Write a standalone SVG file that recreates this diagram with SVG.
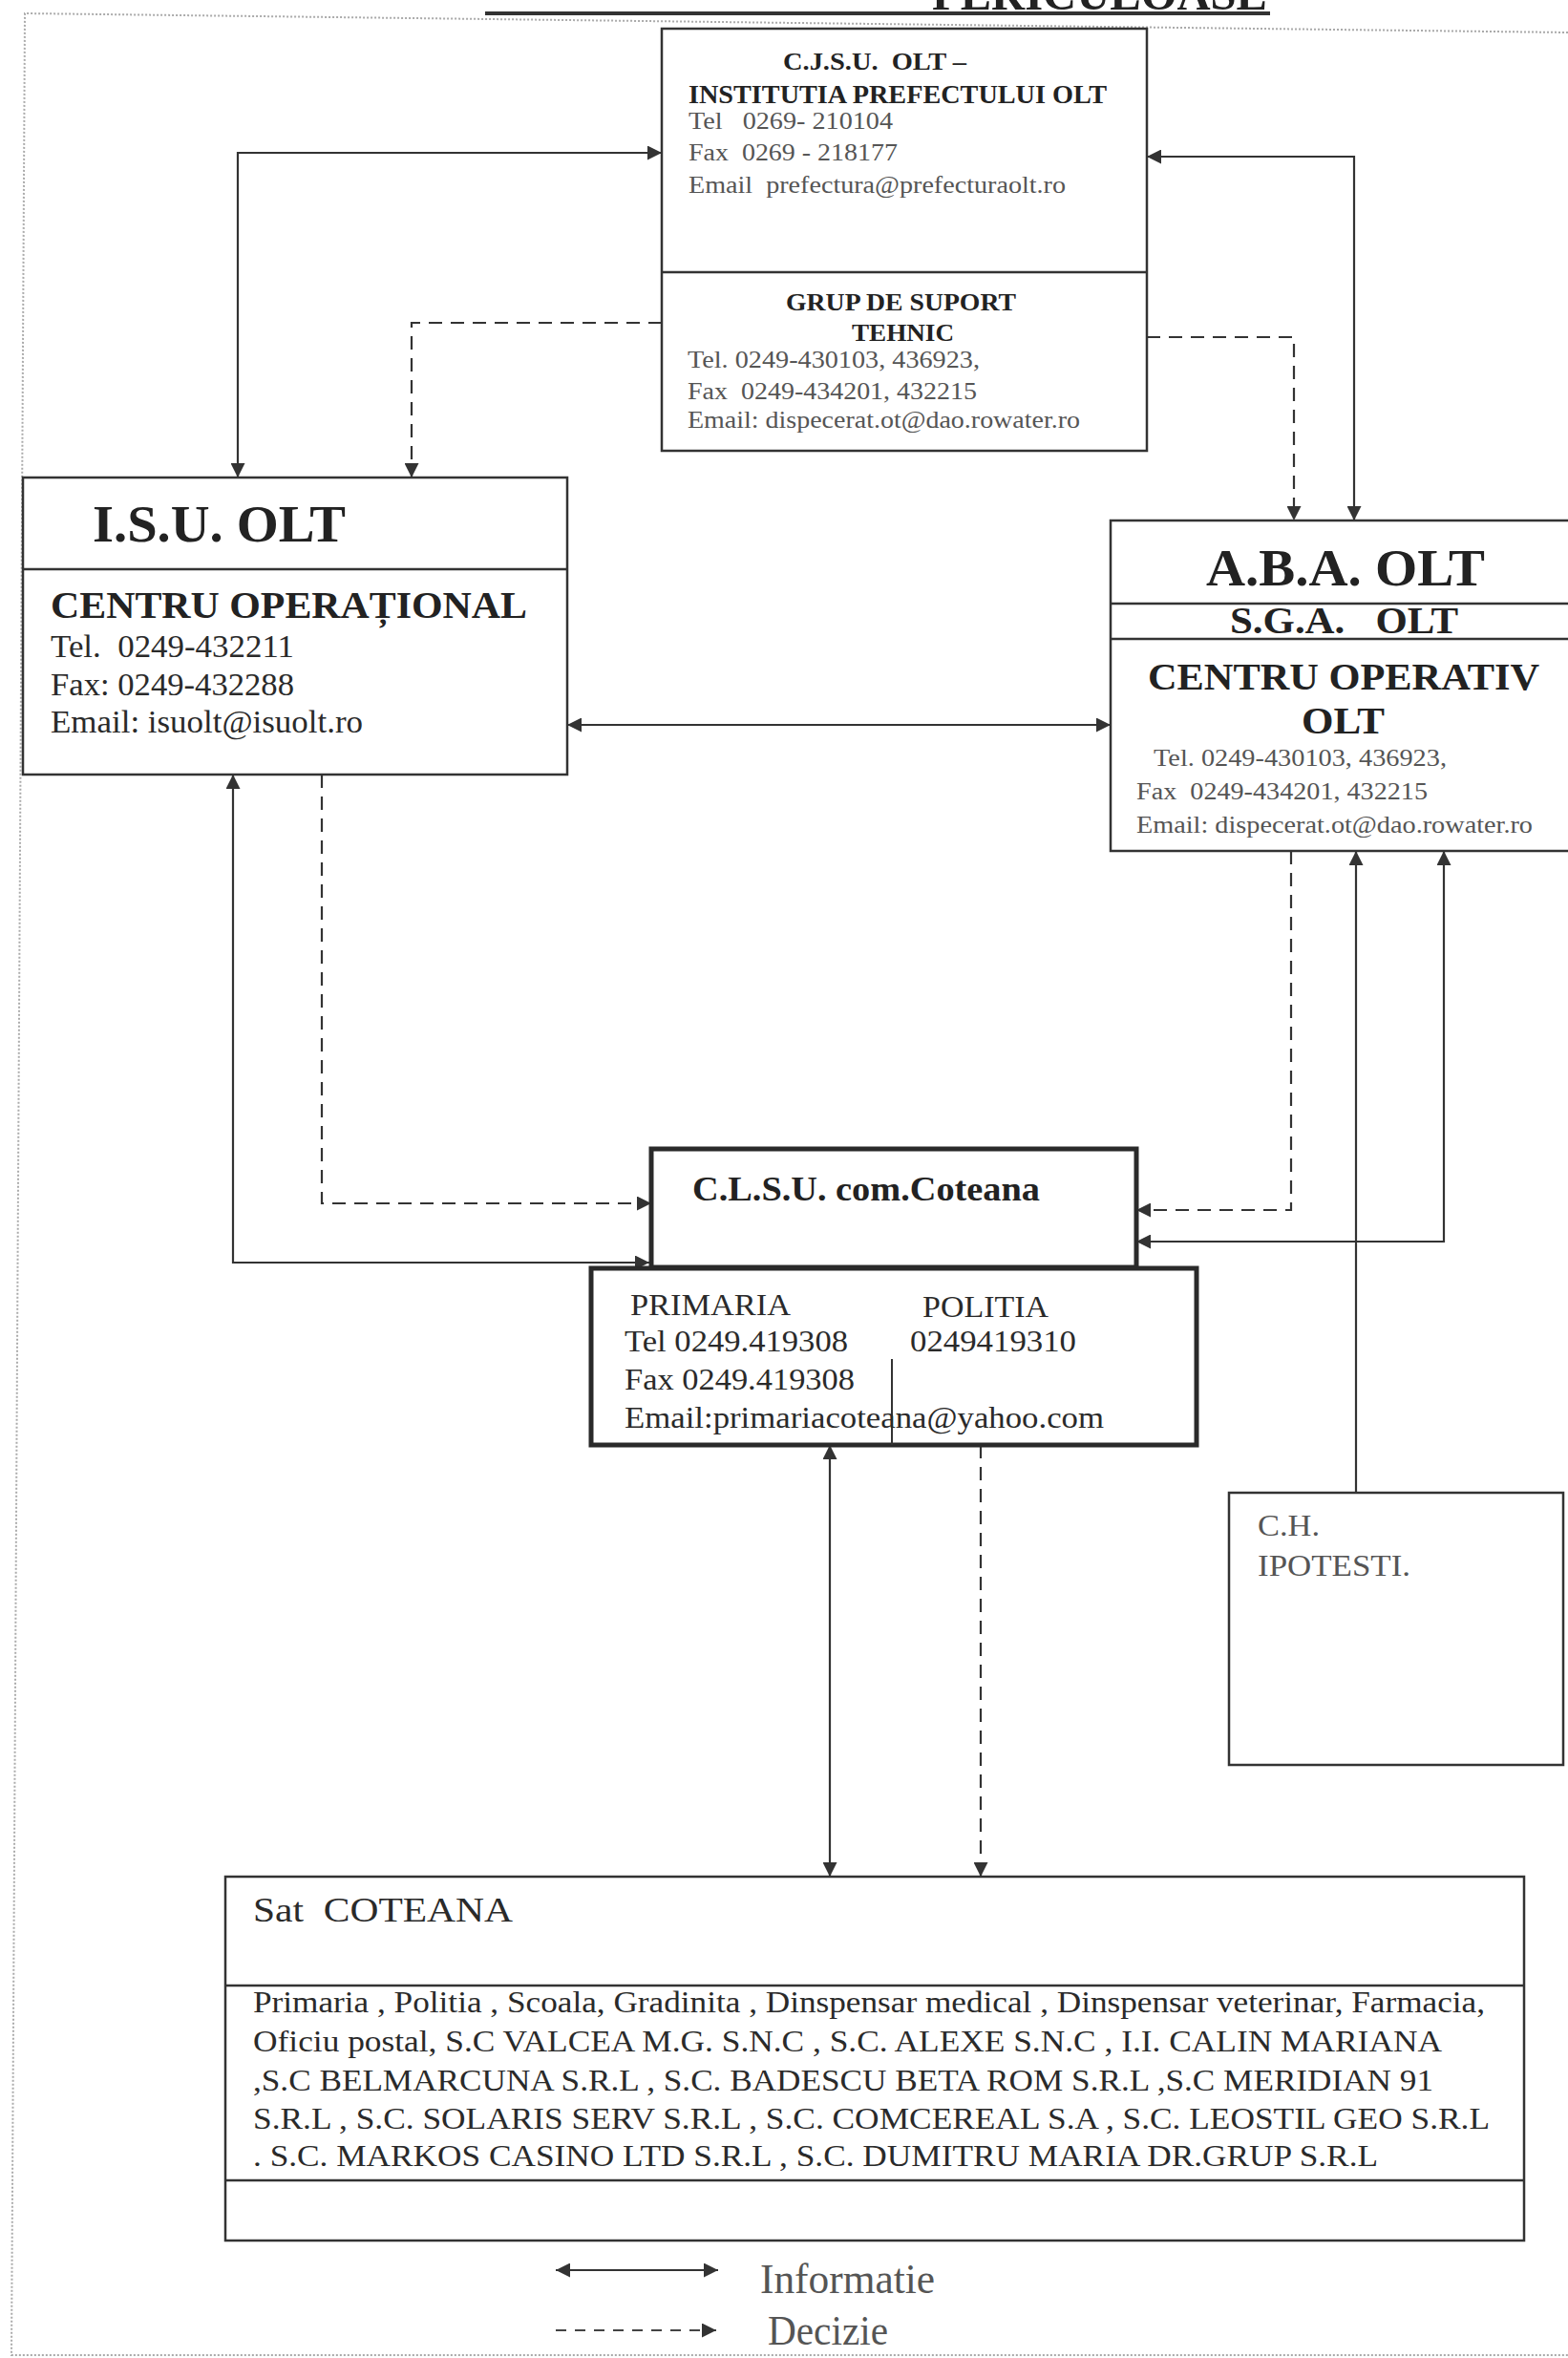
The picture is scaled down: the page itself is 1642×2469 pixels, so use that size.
<svg xmlns="http://www.w3.org/2000/svg" width="1642" height="2469" viewBox="0 0 1642 2469">
<style>
.box{fill:none;stroke:#333;stroke-width:2.5}
.thick{fill:none;stroke:#2a2a2a;stroke-width:5}
.ln{fill:none;stroke:#333;stroke-width:2.5}
.sol{fill:none;stroke:#333;stroke-width:2.2}
.dash{fill:none;stroke:#333;stroke-width:2.2;stroke-dasharray:14 9}
.b{font-family:"Liberation Serif","Times New Roman",serif;font-weight:bold;fill:#222}
.r{font-family:"Liberation Serif","Times New Roman",serif;fill:#2a2a2a}
.g{font-family:"Liberation Serif","Times New Roman",serif;fill:#555}
.frame{fill:none;stroke:#aaa;stroke-width:2;stroke-dasharray:2 2}
</style>
<defs>
<marker id="ah" viewBox="0 0 10 10" refX="10" refY="5" markerWidth="20" markerHeight="15" markerUnits="userSpaceOnUse" orient="auto-start-reverse"><path d="M0,0 L10,5 L0,10 z" fill="#333"/></marker>
</defs>
<rect width="1642" height="2469" fill="#fff"/>
<g id="frame">
<polyline class="frame" points="1642,34 26,14 12,2466 1642,2466"/>
</g>
<g id="title">
<text class="b" x="1327" y="10" font-size="48" text-anchor="end" textLength="351" lengthAdjust="spacingAndGlyphs">PERICULOASE</text>
<line x1="508" y1="14" x2="1330" y2="14" stroke="#333" stroke-width="4"/>
</g>
<g id="connectors">
<path class="sol" d="M693,160 H249 V500" marker-start="url(#ah)" marker-end="url(#ah)"/>
<path class="dash" d="M693,338 H431 V500" marker-end="url(#ah)"/>
<path class="sol" d="M1201,164 H1418 V545" marker-start="url(#ah)" marker-end="url(#ah)"/>
<path class="dash" d="M1201,353 H1355 V545" marker-end="url(#ah)"/>
<path class="sol" d="M594,759 H1163" marker-start="url(#ah)" marker-end="url(#ah)"/>
<path class="sol" d="M244,811 V1322 H680" marker-start="url(#ah)" marker-end="url(#ah)"/>
<path class="dash" d="M337,811 V1260 H682" marker-end="url(#ah)"/>
<path class="dash" d="M1352,891 V1267 H1190" marker-end="url(#ah)"/>
<path class="sol" d="M1512,891 V1300 H1190" marker-start="url(#ah)" marker-end="url(#ah)"/>
<path class="sol" d="M1420,1563 V891" marker-end="url(#ah)"/>
<path class="sol" d="M869,1513 V1965" marker-start="url(#ah)" marker-end="url(#ah)"/>
<path class="dash" d="M1027,1513 V1965" marker-end="url(#ah)"/>
</g>
<g id="cjsu">
<rect class="box" x="693" y="30" width="508" height="442"/>
<line class="box" x1="693" y1="285" x2="1201" y2="285"/>
<text class="b" x="820" y="73" font-size="26" textLength="192" lengthAdjust="spacingAndGlyphs" xml:space="preserve">C.J.S.U.  OLT –</text>
<text class="b" x="721" y="108" font-size="27" textLength="438" lengthAdjust="spacingAndGlyphs">INSTITUTIA PREFECTULUI OLT</text>
<text class="g" x="721" y="135" font-size="26" textLength="214" lengthAdjust="spacingAndGlyphs" xml:space="preserve">Tel   0269- 210104</text>
<text class="g" x="721" y="168" font-size="26" textLength="219" lengthAdjust="spacingAndGlyphs" xml:space="preserve">Fax  0269 - 218177</text>
<text class="g" x="721" y="202" font-size="26" textLength="395" lengthAdjust="spacingAndGlyphs" xml:space="preserve">Email  prefectura@prefecturaolt.ro</text>
<text class="b" x="823" y="325" font-size="25" textLength="241" lengthAdjust="spacingAndGlyphs">GRUP DE SUPORT</text>
<text class="b" x="892" y="357" font-size="26" textLength="107" lengthAdjust="spacingAndGlyphs">TEHNIC</text>
<text class="g" x="720" y="385" font-size="25" textLength="306" lengthAdjust="spacingAndGlyphs">Tel. 0249-430103, 436923,</text>
<text class="g" x="720" y="418" font-size="25" textLength="303" lengthAdjust="spacingAndGlyphs" xml:space="preserve">Fax  0249-434201, 432215</text>
<text class="g" x="720" y="448" font-size="25" textLength="411" lengthAdjust="spacingAndGlyphs">Email: dispecerat.ot@dao.rowater.ro</text>
</g>
<g id="isu">
<rect class="box" x="24" y="500" width="570" height="311"/>
<line class="box" x1="24" y1="596" x2="594" y2="596"/>
<text class="b" x="97" y="567" font-size="55" textLength="265" lengthAdjust="spacingAndGlyphs">I.S.U. OLT</text>
<text class="b" x="53" y="647" font-size="40" textLength="499" lengthAdjust="spacingAndGlyphs">CENTRU OPERAȚIONAL</text>
<text class="r" x="53" y="688" font-size="34" textLength="255" lengthAdjust="spacingAndGlyphs" xml:space="preserve">Tel.  0249-432211</text>
<text class="r" x="53" y="728" font-size="34" textLength="255" lengthAdjust="spacingAndGlyphs">Fax: 0249-432288</text>
<text class="r" x="53" y="767" font-size="34" textLength="327" lengthAdjust="spacingAndGlyphs">Email: isuolt@isuolt.ro</text>
</g>
<g id="aba">
<rect class="box" x="1163" y="545" width="500" height="346"/>
<line class="box" x1="1163" y1="632" x2="1642" y2="632"/>
<line class="box" x1="1163" y1="669" x2="1642" y2="669"/>
<text class="b" x="1263" y="613" font-size="55" textLength="292" lengthAdjust="spacingAndGlyphs">A.B.A. OLT</text>
<text class="b" x="1288" y="663" font-size="40" textLength="239" lengthAdjust="spacingAndGlyphs" xml:space="preserve">S.G.A.   OLT</text>
<text class="b" x="1202" y="722" font-size="40" textLength="410" lengthAdjust="spacingAndGlyphs">CENTRU OPERATIV</text>
<text class="b" x="1363" y="768" font-size="40" textLength="87" lengthAdjust="spacingAndGlyphs">OLT</text>
<text class="g" x="1208" y="802" font-size="25" textLength="307" lengthAdjust="spacingAndGlyphs">Tel. 0249-430103, 436923,</text>
<text class="g" x="1190" y="837" font-size="25" textLength="305" lengthAdjust="spacingAndGlyphs" xml:space="preserve">Fax  0249-434201, 432215</text>
<text class="g" x="1190" y="872" font-size="25" textLength="415" lengthAdjust="spacingAndGlyphs">Email: dispecerat.ot@dao.rowater.ro</text>
</g>
<g id="clsu">
<rect class="thick" x="682" y="1203" width="508" height="124"/>
<text class="b" x="725" y="1257" font-size="36" textLength="364" lengthAdjust="spacingAndGlyphs">C.L.S.U. com.Coteana</text>
</g>
<g id="primaria">
<rect class="thick" x="619" y="1328" width="634" height="185"/>
<line x1="934" y1="1423" x2="934" y2="1513" stroke="#333" stroke-width="2"/>
<text class="r" x="660" y="1377" font-size="32" textLength="168" lengthAdjust="spacingAndGlyphs">PRIMARIA</text>
<text class="r" x="966" y="1379" font-size="32" textLength="132" lengthAdjust="spacingAndGlyphs">POLITIA</text>
<text class="r" x="654" y="1415" font-size="32" textLength="234" lengthAdjust="spacingAndGlyphs">Tel 0249.419308</text>
<text class="r" x="953" y="1415" font-size="32" textLength="174" lengthAdjust="spacingAndGlyphs">0249419310</text>
<text class="r" x="654" y="1455" font-size="32" textLength="241" lengthAdjust="spacingAndGlyphs">Fax 0249.419308</text>
<text class="r" x="654" y="1495" font-size="32" textLength="502" lengthAdjust="spacingAndGlyphs">Email:primariacoteana@yahoo.com</text>
</g>
<g id="ch">
<rect class="box" x="1287" y="1563" width="350" height="285"/>
<text class="g" x="1317" y="1608" font-size="31" textLength="65" lengthAdjust="spacingAndGlyphs">C.H.</text>
<text class="g" x="1317" y="1650" font-size="31" textLength="160" lengthAdjust="spacingAndGlyphs">IPOTESTI.</text>
</g>
<g id="sat">
<rect class="ln" x="236" y="1965" width="1360" height="381"/>
<line class="ln" x1="236" y1="2079" x2="1596" y2="2079"/>
<line class="ln" x1="236" y1="2283" x2="1596" y2="2283"/>
<text class="r" x="265" y="2012" font-size="36" textLength="272" lengthAdjust="spacingAndGlyphs" xml:space="preserve">Sat  COTEANA</text>
<text class="r" x="265" y="2107" font-size="31" textLength="1290" lengthAdjust="spacingAndGlyphs">Primaria , Politia , Scoala, Gradinita , Dinspensar medical , Dinspensar veterinar, Farmacia,</text>
<text class="r" x="265" y="2148" font-size="31" textLength="1245" lengthAdjust="spacingAndGlyphs">Oficiu postal, S.C VALCEA M.G. S.N.C , S.C. ALEXE S.N.C , I.I. CALIN MARIANA</text>
<text class="r" x="265" y="2189" font-size="31" textLength="1236" lengthAdjust="spacingAndGlyphs">,S.C BELMARCUNA S.R.L , S.C. BADESCU BETA ROM S.R.L ,S.C MERIDIAN 91</text>
<text class="r" x="265" y="2229" font-size="31" textLength="1295" lengthAdjust="spacingAndGlyphs">S.R.L , S.C. SOLARIS SERV S.R.L , S.C. COMCEREAL S.A , S.C. LEOSTIL GEO S.R.L</text>
<text class="r" x="265" y="2268" font-size="31" textLength="1178" lengthAdjust="spacingAndGlyphs">. S.C. MARKOS CASINO LTD S.R.L , S.C. DUMITRU MARIA DR.GRUP S.R.L</text>
</g>
<g id="legend">
<path class="sol" d="M582,2377 H752" marker-start="url(#ah)" marker-end="url(#ah)"/>
<path fill="none" stroke="#444" stroke-width="2.2" stroke-dasharray="11 9" d="M582,2440 H750" marker-end="url(#ah)"/>
<text class="g" x="796" y="2401" font-size="44" textLength="183" lengthAdjust="spacingAndGlyphs">Informatie</text>
<text class="g" x="804" y="2455" font-size="44" textLength="126" lengthAdjust="spacingAndGlyphs">Decizie</text>
</g>
</svg>
